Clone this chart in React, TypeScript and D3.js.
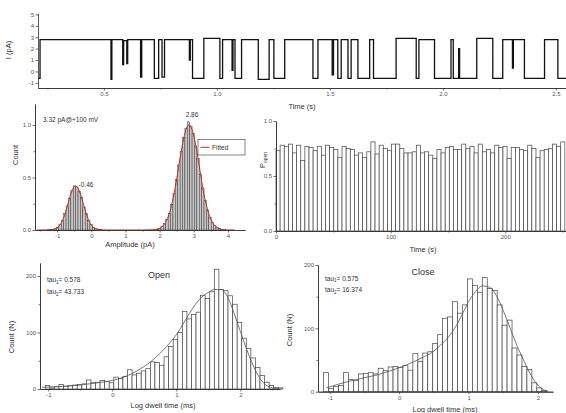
import { useEffect, useRef } from 'react';
import * as d3 from 'd3';

const FONT = '"Liberation Sans", Arial, sans-serif';

// ---- single channel trace: step breakpoints (s, pA)
const traceT = [0.208, 0.217, 0.531, 0.535, 0.583, 0.587, 0.601, 0.605, 0.662, 0.667, 0.723, 0.742, 0.757, 0.768,
  0.878, 0.882, 0.892, 0.942, 1.013, 1.025, 1.067, 1.071, 1.080, 1.109, 1.183, 1.231, 1.252, 1.300, 1.425, 1.447,
  1.510, 1.516, 1.535, 1.550, 1.580, 1.594, 1.624, 1.676, 1.693, 1.793, 1.882, 1.894, 1.963, 2.036, 2.046, 2.070,
  2.074, 2.150, 2.221, 2.265, 2.308, 2.312, 2.361, 2.450, 2.509, 2.545];
const traceI = [-0.6, 2.8, -0.7, 2.8, 0.6, 2.7, 0.7, 2.8, -0.5, 2.8, -0.6, 2.8, -0.5, 2.8,
  1.0, 2.8, -0.6, 2.9, -0.6, 2.8, 0.1, 2.8, -0.6, 2.8, -0.7, 2.8, -0.6, 2.8, -0.6, 2.8,
  -0.3, 2.8, -0.6, 2.8, -0.6, 2.8, -0.6, 2.8, -0.6, 2.9, -0.6, 2.8, -0.6, 2.8, -0.6, 2.0,
  -0.6, 2.9, -0.6, 2.8, 0.3, 2.8, -0.6, 2.8, -0.6, -0.6];

// ---- amplitude histogram
const ampBinWidth = 0.07;
const ampStart1 = -1.3;
const ampPeak1 = [0.001, 0.003, 0.006, 0.012, 0.026, 0.05, 0.088, 0.155, 0.23, 0.3, 0.38, 0.42, 0.41, 0.37, 0.31,
  0.22, 0.155, 0.09, 0.05, 0.022, 0.012, 0.005, 0.002];
const ampStart2 = 1.9;
const ampPeak2 = [0.008, 0.017, 0.034, 0.06, 0.1, 0.16, 0.245, 0.35, 0.48, 0.62, 0.75, 0.88, 0.97, 1.03, 0.99,
  0.92, 0.8, 0.68, 0.53, 0.4, 0.28, 0.19, 0.12, 0.075, 0.04, 0.022, 0.012, 0.005, 0.002];
const ampFitX = [-1.6, -1.3, -1.1, -1.0, -0.9, -0.8, -0.7, -0.6, -0.5, -0.46, -0.4, -0.3, -0.2, -0.1, 0, 0.1, 0.2, 0.3,
  0.5, 1.5, 1.8, 2.0, 2.1, 2.2, 2.3, 2.4, 2.5, 2.6, 2.7, 2.8, 2.86, 2.9, 3.0, 3.1, 3.2, 3.3, 3.4, 3.5, 3.6, 3.7, 3.8,
  3.9, 4.0, 4.2];
const ampFitY = [0, 0.001, 0.006, 0.021, 0.057, 0.127, 0.232, 0.343, 0.413, 0.42, 0.405, 0.322, 0.209, 0.11, 0.047,
  0.016, 0.005, 0.001, 0, 0, 0.003, 0.016, 0.04, 0.089, 0.175, 0.31, 0.487, 0.687, 0.867, 0.98, 1.0, 0.991, 0.897,
  0.726, 0.527, 0.34, 0.198, 0.103, 0.048, 0.02, 0.0075, 0.0024, 0.001, 0];

// ---- open probability per time bin
const popenBinWidth = 3.6;
const popen = [0.73, 0.78, 0.77, 0.79, 0.71, 0.78, 0.64, 0.77, 0.76, 0.73,
  0.77, 0.69, 0.78, 0.76, 0.74, 0.67, 0.77, 0.75, 0.74, 0.69,
  0.71, 0.67, 0.72, 0.81, 0.70, 0.78, 0.75, 0.73, 0.79, 0.79,
  0.75, 0.71, 0.71, 0.72, 0.78, 0.71, 0.72, 0.69, 0.66, 0.74,
  0.71, 0.76, 0.77, 0.74, 0.74, 0.79, 0.75, 0.77, 0.71, 0.79,
  0.72, 0.74, 0.71, 0.78, 0.76, 0.77, 0.66, 0.76, 0.76, 0.74,
  0.73, 0.78, 0.75, 0.67, 0.73, 0.74, 0.75, 0.79, 0.77, 0.81];

// ---- dwell time histograms
const dwellBinWidth = 0.0714;
const openStart = -1.048;
const openCounts = [6, 2, 4, 8, 5, 6, 7, 8, 9, 16, 11, 12, 15, 13, 11, 21, 19, 22, 34, 25, 28, 32, 36, 48, 47, 42,
  57, 75, 88, 100, 137, 124, 132, 136, 166, 160, 172, 212, 176, 174, 165, 150, 118, 90, 72, 55, 38, 24, 12, 6, 3, 2];
const openFitX = [-1.1, -0.9, -0.7, -0.5, -0.3, -0.1, 0.1, 0.3, 0.5, 0.7, 0.9, 1.0, 1.1, 1.2, 1.3, 1.4, 1.5, 1.6,
  1.7, 1.8, 1.9, 2.0, 2.1, 2.2, 2.3, 2.4, 2.5, 2.6];
const openFitY = [3, 4, 5, 7, 10, 13, 18, 27, 40, 58, 82, 96, 114, 133, 150, 163, 171, 176, 176, 163, 135, 102, 70,
  42, 20, 7, 2, 0.5];
const closeStart = -1.087;
const closeCounts = [30, 5, 8, 10, 30, 19, 18, 28, 29, 30, 28, 37, 33, 39, 40, 38, 41, 34, 60, 48, 61, 63, 76, 90,
  116, 118, 142, 124, 137, 178, 168, 157, 180, 163, 160, 137, 105, 113, 69, 58, 40, 35, 14, 6, 2];
const closeFitX = [-1.05, -0.9, -0.7, -0.5, -0.3, -0.1, 0.1, 0.3, 0.5, 0.6, 0.7, 0.8, 0.9, 1.0, 1.1, 1.2, 1.3, 1.4,
  1.5, 1.6, 1.7, 1.8, 1.9, 2.0, 2.1, 2.15];
const closeFitY = [6, 11, 17, 22, 27, 34, 42, 52, 64, 74, 85, 100, 120, 142, 158, 167, 165, 152, 128, 100, 72, 48,
  26, 10, 2, 0.5];

const fmt1 = (d: any) => (+d).toFixed(1);
const fmt0 = (d: any) => String(d);

function Axis({ scale, orient, x = 0, y = 0, ticks, minor, fmt }: any) {
  const ref = useRef<SVGGElement>(null);
  useEffect(() => {
    const g = d3.select(ref.current);
    g.selectAll('*').remove();
    const make = orient === 'left' ? d3.axisLeft : d3.axisBottom;
    if (minor) {
      g.append('g').call(make(scale).tickValues(minor).tickSize(1.5).tickSizeOuter(0).tickFormat(() => ''));
    }
    g.append('g').call(make(scale).tickValues(ticks).tickSize(2.5).tickSizeOuter(0).tickPadding(1.5).tickFormat(fmt));
    g.selectAll('path.domain').attr('stroke', '#333').attr('stroke-width', 0.8);
    g.selectAll('.tick line').attr('stroke', '#333').attr('stroke-width', 0.7);
    g.selectAll('text').attr('font-size', 6).attr('fill', '#555').attr('font-family', FONT);
  }, [scale, orient, ticks, minor, fmt]);
  return <g ref={ref} transform={`translate(${x},${y})`} />;
}

const label = { fontFamily: FONT, fontSize: 7.5, fill: '#333' } as const;

function Bars({ start, width, values, xs, ys, fill, stroke, sw }: any) {
  return (
    <g>
      {values.map((v: number, i: number) => {
        const x0 = xs(start + i * width);
        const x1 = xs(start + (i + 1) * width);
        return <rect key={i} x={x0} y={ys(v)} width={x1 - x0} height={ys(0) - ys(v)}
          fill={fill} stroke={stroke} strokeWidth={sw} />;
      })}
    </g>
  );
}

function Tau({ x, y, n, v }: any) {
  return (
    <text x={x} y={y} fontFamily={FONT} fontSize={6.5} fill="#333">
      tau<tspan fontSize={4.5} dy={1.5}>{n}</tspan><tspan dy={-1.5}>= {v}</tspan>
    </text>
  );
}

export default function App() {
  // trace panel
  const xT = d3.scaleLinear().domain([0.208, 2.545]).range([38, 566]);
  const yT = d3.scaleLinear().domain([-1.45, 5.1]).range([88, 13.3]);
  const traceLine = d3.line<number>().x((_, i) => xT(traceT[i])).y(d => yT(d)).curve(d3.curveStepAfter);

  // amplitude panel
  const xA = d3.scaleLinear().domain([-1.65, 4.5]).range([35, 245]);
  const yA = d3.scaleLinear().domain([0, 1.2]).range([230, 104]);
  const ampLine = d3.line<number>().x((_, i) => xA(ampFitX[i])).y(d => yA(d)).curve(d3.curveMonotoneX);

  // popen panel
  const xP = d3.scaleLinear().domain([0, 253]).range([276, 566]);
  const yP = d3.scaleLinear().domain([0, 1]).range([231, 121]);

  // open dwell
  const xO = d3.scaleLinear().domain([-1.13, 2.62]).range([40, 280]);
  const yO = d3.scaleLinear().domain([0, 223]).range([389, 263]);
  const openLine = d3.line<number>().x((_, i) => xO(openFitX[i])).y(d => yO(d)).curve(d3.curveMonotoneX);

  // close dwell
  const xC = d3.scaleLinear().domain([-1.168, 2.216]).range([318, 553]);
  const yC = d3.scaleLinear().domain([0, 200]).range([391.7, 265]);
  const closeLine = d3.line<number>().x((_, i) => xC(closeFitX[i])).y(d => yC(d)).curve(d3.curveMonotoneX);

  return (
    <svg width={566} height={413} style={{ position: 'absolute', left: 0, top: 0, background: '#fff' }}>
      {/* trace */}
      <path d={traceLine(traceI) || ''} fill="none" stroke="#111" strokeWidth={1.3} />
      <Axis scale={yT} orient="left" x={38} ticks={[-1, 0, 1, 2, 3, 4, 5]} fmt={fmt0} />
      <Axis scale={xT} orient="bottom" y={88} ticks={[0.5, 1.0, 1.5, 2.0, 2.5]}
        minor={[0.25, 0.75, 1.25, 1.75, 2.25]} fmt={fmt1} />
      <text transform="translate(11,50) rotate(-90)" textAnchor="middle" style={label}>I (pA)</text>
      <text x={302} y={109} textAnchor="middle" style={label}>Time (s)</text>

      {/* amplitude histogram */}
      <Bars start={ampStart1} width={ampBinWidth} values={ampPeak1} xs={xA} ys={yA} fill="#c4c4c4" stroke="#222" sw={0.4} />
      <Bars start={ampStart2} width={ampBinWidth} values={ampPeak2} xs={xA} ys={yA} fill="#c4c4c4" stroke="#222" sw={0.4} />
      <path d={ampLine(ampFitY) || ''} fill="none" stroke="#c0302a" strokeWidth={1} />
      <Axis scale={yA} orient="left" x={35} ticks={[0, 0.5, 1.0]} minor={[0.25, 0.75]} fmt={fmt1} />
      <Axis scale={xA} orient="bottom" y={230} ticks={[-1, 0, 1, 2, 3, 4]} minor={[-1.5, -0.5, 0.5, 1.5, 2.5, 3.5]} fmt={fmt0} />
      <text transform="translate(18,155) rotate(-90)" textAnchor="middle" style={label}>Count</text>
      <text x={130} y={247} textAnchor="middle" style={label}>Amplitude (pA)</text>
      <text x={43} y={122} fontFamily={FONT} fontSize={6.5} fill="#333">3.32 pA@+100 mV</text>
      <text x={192} y={117} textAnchor="middle" fontFamily={FONT} fontSize={6.5} fill="#333">2.86</text>
      <text x={86} y={187} textAnchor="middle" fontFamily={FONT} fontSize={6.5} fill="#333">-0.46</text>
      <rect x={198} y={139.5} width={47} height={15.5} fill="#fff" stroke="#333" strokeWidth={0.6} />
      <line x1={200.5} x2={209.5} y1={147.3} y2={147.3} stroke="#c0302a" strokeWidth={1} />
      <text x={212} y={149.5} fontFamily={FONT} fontSize={6.5} fill="#333">Fitted</text>

      {/* open probability */}
      <Bars start={0} width={popenBinWidth} values={popen} xs={xP} ys={yP} fill="#fff" stroke="#444" sw={0.7} />
      <Axis scale={yP} orient="left" x={276} ticks={[0, 0.5, 1.0]} minor={[0.25, 0.75]} fmt={fmt1} />
      <Axis scale={xP} orient="bottom" y={231} ticks={[0, 100, 200]} minor={[50, 150, 250]} fmt={fmt0} />
      <text transform="translate(265,160) rotate(-90)" textAnchor="middle" style={label}>
        P<tspan fontSize={5} dy={2}>open</tspan>
      </text>
      <text x={423} y={252} textAnchor="middle" style={label}>Time (s)</text>

      {/* open dwell */}
      <Bars start={openStart} width={dwellBinWidth} values={openCounts} xs={xO} ys={yO} fill="#fff" stroke="#444" sw={0.7} />
      <path d={openLine(openFitY) || ''} fill="none" stroke="#555" strokeWidth={0.8} />
      <Axis scale={yO} orient="left" x={40} ticks={[0, 100, 200]} minor={[50, 150]} fmt={fmt0} />
      <Axis scale={xO} orient="bottom" y={389} ticks={[-1, 0, 1, 2]} minor={[-0.5, 0.5, 1.5, 2.5]} fmt={fmt0} />
      <text transform="translate(14,337) rotate(-90)" textAnchor="middle" style={label}>Count (N)</text>
      <text x={163} y={408} textAnchor="middle" style={label}>Log dwell time (ms)</text>
      <text x={159} y={278} textAnchor="middle" fontFamily={FONT} fontSize={9} fill="#333">Open</text>
      <Tau x={47} y={282} n="1" v="0.578" />
      <Tau x={47} y={294} n="2" v="43.733" />

      {/* close dwell */}
      <Bars start={closeStart} width={dwellBinWidth} values={closeCounts} xs={xC} ys={yC} fill="#fff" stroke="#444" sw={0.7} />
      <path d={closeLine(closeFitY) || ''} fill="none" stroke="#555" strokeWidth={0.8} />
      <Axis scale={yC} orient="left" x={318} ticks={[0, 100, 200]} minor={[50, 150]} fmt={fmt0} />
      <Axis scale={xC} orient="bottom" y={391.7} ticks={[-1, 0, 1, 2]} minor={[-0.5, 0.5, 1.5]} fmt={fmt0} />
      <text transform="translate(292,330) rotate(-90)" textAnchor="middle" style={label}>Count (N)</text>
      <text x={445} y={412} textAnchor="middle" style={label}>Log dwell time (ms)</text>
      <text x={423} y={275} textAnchor="middle" fontFamily={FONT} fontSize={9} fill="#333">Close</text>
      <Tau x={325} y={280.5} n="1" v="0.575" />
      <Tau x={325} y={292} n="2" v="16.374" />
    </svg>
  );
}
